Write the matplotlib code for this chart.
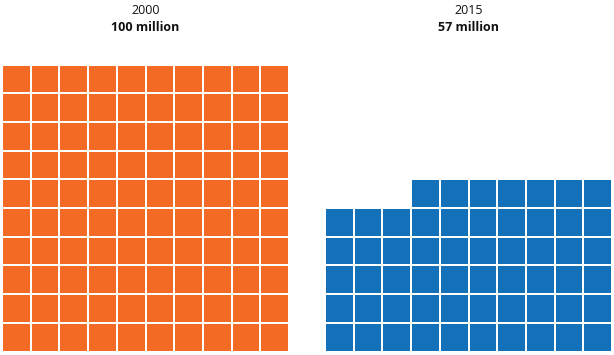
import matplotlib
matplotlib.use("Agg")
import matplotlib.pyplot as plt
from matplotlib.patches import Rectangle

# data
years = ["2000", "2015"]
labels = ["100 million", "57 million"]
values = [100, 57]
colors = ["#F36A24", "#1371B9"]

plt.rcParams['font.family'] = ['Open Sans', 'DejaVu Sans']

fig = plt.figure(figsize=(6.14, 3.55), dpi=100)
ax = fig.add_axes([0, 0, 1, 1])
ax.set_xlim(0, 614)
ax.set_ylim(355, 0)
ax.set_axis_off()

ncols = 10
pitch = 28.7
gap = 2.0
x_starts = [3, 326]
bottom = 350.5

for k in range(len(values)):
    x0 = x_starts[k]
    for i in range(values[k]):
        row = i // ncols
        col = ncols - 1 - (i % ncols)   # partial row fills from the right
        x = x0 + col * pitch
        y = bottom - (row + 1) * pitch + gap
        ax.add_patch(Rectangle((x, y), pitch - gap, pitch - gap,
                               facecolor=colors[k], edgecolor="none"))
    cx = x0 + ncols * pitch / 2 - gap / 2
    ax.text(cx, 10, years[k], ha="center", va="center", fontsize=9, color="#111111")
    ax.text(cx, 27.5, labels[k], ha="center", va="center", fontsize=9,
            fontweight="bold", color="#111111")

fig.savefig("out.png", dpi=100)
